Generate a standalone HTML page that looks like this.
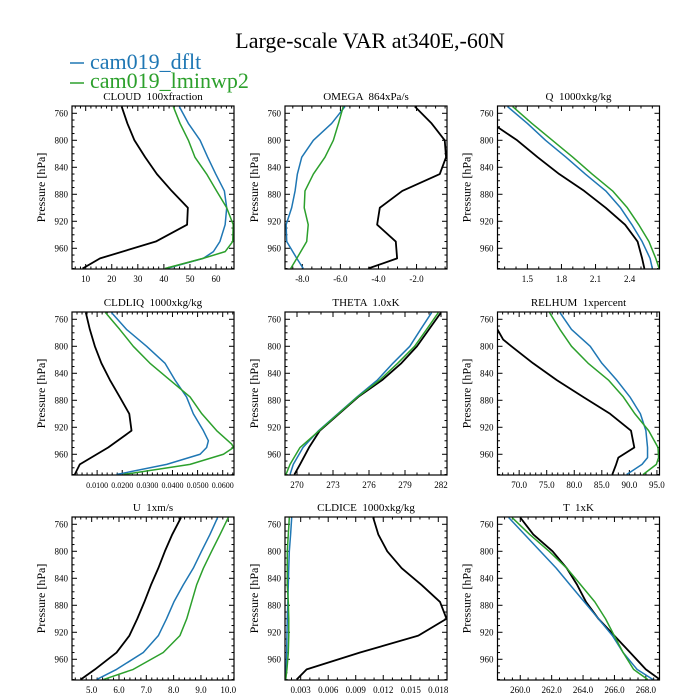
<!DOCTYPE html>
<html><head><meta charset="utf-8"><style>
body{margin:0;background:#fff;}
svg{display:block;font-family:"Liberation Serif",serif;}
svg text{white-space:pre;}
</style></head><body>
<svg id="chart" width="700" height="700" viewBox="0 0 700 700">
<text x="370" y="48" font-size="22" text-anchor="middle">Large-scale VAR at340E,-60N</text>
<g>
<line x1="70" y1="63" x2="84" y2="63" stroke="#1f77b4" stroke-width="1.5"/>
<text x="90" y="69" font-size="22" fill="#1f77b4">cam019_dflt</text>
<line x1="70" y1="83" x2="84" y2="83" stroke="#2ca02c" stroke-width="1.5"/>
<text x="90" y="88" font-size="22" fill="#2ca02c">cam019_lminwp2</text>
</g>
</svg>
<script>
const pLevels = [750,775,800,825,850,875,900,925,950,975,990];
// CLOUD
const cloudBlack = [23.8,26,28.7,32.8,37.3,43,49.2,48.9,36.9,15.5,8.8];
const cloudBlueP = [750,775,800,825,850,875,900,925,950,965,975,990];
const cloudBlue = [45.9,49.4,53.9,56.8,59.9,63.2,64.1,63.5,61.5,59,55.1,41];
const cloudGreen = [43.6,46.2,49.4,51.9,56.4,60.2,64.1,66.6,66.4,63.5,55,40.4];
// OMEGA
const omegaBlack = [-2.09,-1.21,-0.52,-0.45,-0.78,-2.75,-3.93,-4.07,-3.09,-3.02,-4.54];
const omegaBlue = [-5.76,-6.46,-7.42,-8.03,-8.26,-8.38,-8.56,-8.85,-8.82,-8.29,-7.95];
const omegaGreen = [-5.85,-6.1,-6.37,-6.81,-7.42,-7.86,-7.9,-7.69,-7.77,-8.29,-8.61];
// Q
const qBlack = [1.1,1.19,1.41,1.59,1.78,2.0,2.19,2.36,2.47,2.51,2.53];
const qBlue = [1.325,1.5,1.66,1.84,2.01,2.19,2.32,2.42,2.51,2.58,2.6];
const qGreen = [1.37,1.54,1.72,1.9,2.07,2.25,2.38,2.48,2.57,2.63,2.66];
// CLDLIQ
const liqBlack = [0.0055,0.0071,0.0091,0.0117,0.0151,0.019,0.0228,0.0237,0.0144,0.0031,0.0011];
const liqBlueP = [750,775,800,825,850,875,900,925,940,950,960,975,990];
const liqBlue = [0.0157,0.0217,0.0297,0.037,0.041,0.0456,0.0483,0.0523,0.0543,0.0536,0.051,0.0377,0.0177];
const liqGreenP = [750,775,800,825,850,875,900,925,945,950,960,975,990];
const liqGreen = [0.0133,0.019,0.0244,0.031,0.039,0.047,0.0517,0.0576,0.0636,0.0643,0.0603,0.047,0.0204];
// THETA
const thBlack = [282.0,281.0,280.0,278.7,277.1,275.1,273.5,271.9,271.0,270.25,269.78];
const thBlue = [281.22,280.3,279.4,278.0,276.7,275.0,273.4,271.8,270.5,269.69,269.42];
const thGreen = [281.78,280.8,279.8,278.4,276.9,275.05,273.45,271.85,270.25,269.42,269.08];
// RELHUM
const rhBlackP = [775,790,800,825,850,875,900,925,950,965,975,990];
const rhBlack = [66.06,67.1,68.6,72.5,76.8,81.6,86.5,90.3,90.9,88,87.6,86.9];
const rhP = [750,775,800,825,850,875,900,925,950,965,975,990];
const rhBlue = [77.4,79.5,82.9,85,87.7,90.1,92,93,93.3,93.3,92.3,89.5];
const rhGreen = [75.5,77.4,79.5,82.5,86.2,88.9,91,93.5,95.2,95.3,94.9,92.5];
// U
const uBlack = [8.27,7.95,7.68,7.44,7.17,6.93,6.67,6.38,5.91,5.12,4.6];
const uBlue = [9.61,9.33,9.02,8.72,8.35,8.01,7.74,7.44,6.89,5.91,5.18];
const uGreen = [10.0,9.7,9.39,9.09,8.84,8.66,8.48,8.23,7.62,6.52,5.43];
// CLDICE
const iceBlack = [0.0109,0.01146,0.01244,0.01401,0.01619,0.01819,0.0189,0.01582,0.00947,0.00365,0.00256];
const iceBlue = [0.00202,0.0019,0.00176,0.0017,0.00165,0.0016,0.00154,0.0015,0.00147,0.00142,0.00137];
const iceGreen = [0.00176,0.00165,0.00154,0.00154,0.00154,0.00165,0.0017,0.0017,0.00165,0.0015,0.00137];
// T
const tBlack = [260.0,260.83,262.06,262.96,263.63,264.19,264.98,265.99,267.0,268.0,268.9];
const tBlue = [259.26,260.27,261.28,262.29,263.18,264.08,264.98,265.87,266.55,267.44,268.45];
const tGreen = [259.48,260.6,261.84,262.96,263.86,264.75,265.43,265.99,266.55,267.22,268.12];

const yTicks = [760,800,840,880,920,960];
const cloudTicks = [10,20,30,40,50,60];
const omegaTicks = [-8,-6,-4,-2];
const qTicks = [1.5,1.8,2.1,2.4];
const liqTicks = [0.01,0.02,0.03,0.04,0.05,0.06];
const thTicks = [270,273,276,279,282];
const rhTicks = [70,75,80,85,90,95];
const uTicks = [5,6,7,8,9,10];
const iceTicks = [0.003,0.006,0.009,0.012,0.015,0.018];
const tTicks = [260,262,264,266,268];

const NS = 'http://www.w3.org/2000/svg';
const svg = document.getElementById('chart');
const PMIN = 749.2, PMAX = 990.7, W = 162, H = 163;
const BLUE = '#1f77b4', GREEN = '#2ca02c';
function mk(tag, attrs, parent){const e=document.createElementNS(NS,tag);for(const k in attrs)e.setAttribute(k,attrs[k]);(parent||svg).appendChild(e);return e;}

const panels = [
 {key:'cloud',title:'CLOUD  100xfraction',x0:72,y0:106,xmin:4.75,xmax:66.9,ticks:cloudTicks,fmt:v=>v.toFixed(0),minor:5,
  series:[[pLevels,cloudBlack,'#000'],[cloudBlueP,cloudBlue,BLUE],[cloudBlueP,cloudGreen,GREEN]]},
 {key:'omega',title:'OMEGA  864xPa/s',x0:285,y0:106,xmin:-8.91,xmax:-0.40,ticks:omegaTicks,fmt:v=>v.toFixed(1),minor:4,
  series:[[pLevels,omegaBlack,'#000'],[pLevels,omegaBlue,BLUE],[pLevels,omegaGreen,GREEN]]},
 {key:'q',title:'Q  1000xkg/kg',x0:497.5,y0:106,xmin:1.237,xmax:2.663,ticks:qTicks,fmt:v=>v.toFixed(1),minor:3,
  series:[[pLevels,qBlack,'#000'],[pLevels,qBlue,BLUE],[pLevels,qGreen,GREEN]]},
 {key:'cldliq',title:'CLDLIQ  1000xkg/kg',x0:72,y0:312,xmin:0.0,xmax:0.0645,ticks:liqTicks,fmt:v=>v.toFixed(4),minor:5,
  series:[[pLevels,liqBlack,'#000'],[liqBlueP,liqBlue,BLUE],[liqGreenP,liqGreen,GREEN]]},
 {key:'theta',title:'THETA  1.0xK',x0:285,y0:312,xmin:269.0,xmax:282.5,ticks:thTicks,fmt:v=>v.toFixed(0),minor:3,
  series:[[pLevels,thBlack,'#000'],[pLevels,thBlue,BLUE],[pLevels,thGreen,GREEN]]},
 {key:'relhum',title:'RELHUM  1xpercent',x0:497.5,y0:312,xmin:66.07,xmax:95.47,ticks:rhTicks,fmt:v=>v.toFixed(1),minor:5,
  series:[[rhBlackP,rhBlack,'#000'],[rhP,rhBlue,BLUE],[rhP,rhGreen,GREEN]]},
 {key:'u',title:'U  1xm/s',x0:72,y0:517,xmin:4.28,xmax:10.21,ticks:uTicks,fmt:v=>v.toFixed(1),minor:5,
  series:[[pLevels,uBlack,'#000'],[pLevels,uBlue,BLUE],[pLevels,uGreen,GREEN]]},
 {key:'cldice',title:'CLDICE  1000xkg/kg',x0:285,y0:517,xmin:0.00129,xmax:0.01895,ticks:iceTicks,fmt:v=>v.toFixed(3),minor:3,
  series:[[pLevels,iceBlack,'#000'],[pLevels,iceBlue,BLUE],[pLevels,iceGreen,GREEN]]},
 {key:'t',title:'T  1xK',x0:497.5,y0:517,xmin:258.55,xmax:268.87,ticks:tTicks,fmt:v=>v.toFixed(1),minor:4,
  series:[[pLevels,tBlack,'#000'],[pLevels,tBlue,BLUE],[pLevels,tGreen,GREEN]]},
];

panels.forEach((p,i)=>{
  const xs = v => p.x0 + (v-p.xmin)/(p.xmax-p.xmin)*W;
  const ys = v => p.y0 + (v-PMIN)/(PMAX-PMIN)*H;
  const g = mk('g',{});
  
  
  const t = mk('text',{x:p.x0+W/2,y:p.y0-6,'font-size':11,'text-anchor':'middle'},g);
  t.textContent = p.title;
  
  
  const yl = mk('text',{x:0,y:0,'font-size':12,'text-anchor':'middle',transform:`translate(${p.x0-27},${p.y0+H/2}) rotate(-90)`},g);
  yl.textContent = 'Pressure [hPa]';
  
  
  const cid = 'clip'+i;
  const cp = mk('clipPath',{id:cid},g);
  mk('rect',{x:p.x0,y:p.y0,width:W,height:H},cp);
  for(let v=760; v<=990; v+=10){
    const y = ys(v); const major = (v-760)%40===0;
    const L = major?5:2.5;
    mk('line',{x1:p.x0,y1:y,x2:p.x0+L,y2:y,stroke:'#000','stroke-width':1},g);
    mk('line',{x1:p.x0+W,y1:y,x2:p.x0+W-L,y2:y,stroke:'#000','stroke-width':1},g);
  }
  yTicks.forEach(v=>{
    const lab = mk('text',{x:p.x0-4,y:ys(v)+3,'font-size':9,'text-anchor':'end'},g);
    lab.textContent = v;
    
    
  });
  const step = p.ticks[1]-p.ticks[0];
  const ms = step/p.minor;
  const start = p.ticks[0] - Math.ceil((p.ticks[0]-p.xmin)/ms)*ms;
  for(let v=start; v<=p.xmax+1e-9; v+=ms){
    if(v<p.xmin-1e-9) continue;
    const x = xs(v);
    const k = Math.round((v-p.ticks[0])/ms);
    const L = (k % p.minor===0)?5:2.5;
    mk('line',{x1:x,y1:p.y0+H,x2:x,y2:p.y0+H-L,stroke:'#000','stroke-width':1},g);
    mk('line',{x1:x,y1:p.y0,x2:x,y2:p.y0+L,stroke:'#000','stroke-width':1},g);
  }
  p.ticks.forEach(v=>{
    const lab = mk('text',{x:xs(v),y:p.y0+H+13,'font-size':p.key==='cldliq'?8:9,'text-anchor':'middle'},g);
    lab.textContent = p.fmt(v);
    
    
  });
  const names=['obs','dflt','lminwp2'];
  p.series.forEach((s,j)=>{
    const [pp,vals,col] = s;
    const d = vals.map((v,k)=>(k?'L':'M')+xs(v).toFixed(2)+','+ys(pp[k]).toFixed(2)).join('');
    const path = mk('path',{d:d,fill:'none',stroke:col,'stroke-width':j===0?1.8:1.5,'clip-path':`url(#${cid})`,'stroke-linejoin':'round'},g);
    
    
  });
  const box = mk('rect',{x:p.x0,y:p.y0,width:W,height:H,fill:'none',stroke:'#000','stroke-width':1.2},g);
  
  
});
</script>
</body></html>
